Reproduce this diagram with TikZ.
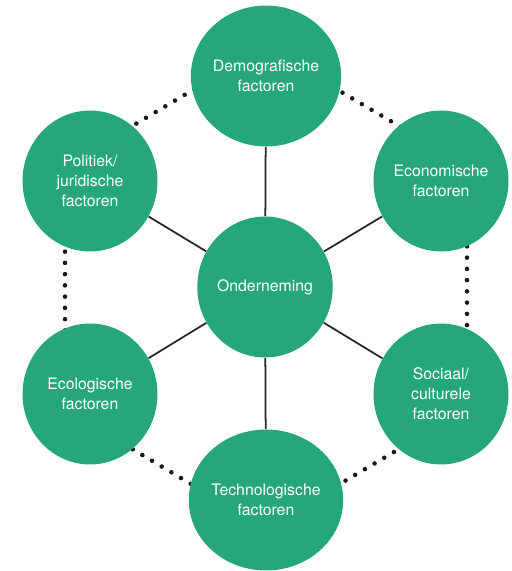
\documentclass[tikz,border=0pt]{standalone}
\usepackage{fontspec}
\setmainfont{TeX Gyre Heros}
\usetikzlibrary{shapes.geometric}
\definecolor{factorgreen}{RGB}{38,167,121}

\begin{document}
\begin{tikzpicture}[x=0.02cm,y=-0.02cm,
  factor/.style={ellipse,fill=factorgreen,minimum width=2.7cm,minimum height=2.82cm,inner sep=0pt,text=white,font=\fontsize{9}{11.4}\selectfont,align=center},
  spoke/.style={draw=black!85,line width=1pt},
  ring/.style={draw=black!90,line width=2.6pt,line cap=round,dash pattern=on 0pt off 6.4pt}]
  \useasboundingbox (0,0) rectangle (511,571);
  % dotted hexagon, mostly hidden behind the circles
  \draw[ring] (265,47) -- (467,166) -- (467,409) -- (265,528) -- (65,409) -- (65,166) -- cycle;
  \node[factor] (onder) at (265,287) {Onderneming};
  \node[factor] (demo) at (266,76) {Demografische\\factoren};
  \node[factor] (econ) at (441,181) {Economische\\factoren};
  \node[factor] (soc) at (441,394) {Sociaal/\\culturele\\factoren};
  \node[factor] (tech) at (266,500) {Technologische\\factoren};
  \node[factor] (eco) at (90,394) {Ecologische\\factoren};
  \node[factor] (pol) at (90,181) {Politiek/\\juridische\\factoren};
  \foreach \f in {demo,econ,soc,tech,eco,pol} \draw[spoke] (onder) -- (\f);
\end{tikzpicture}
\end{document}
